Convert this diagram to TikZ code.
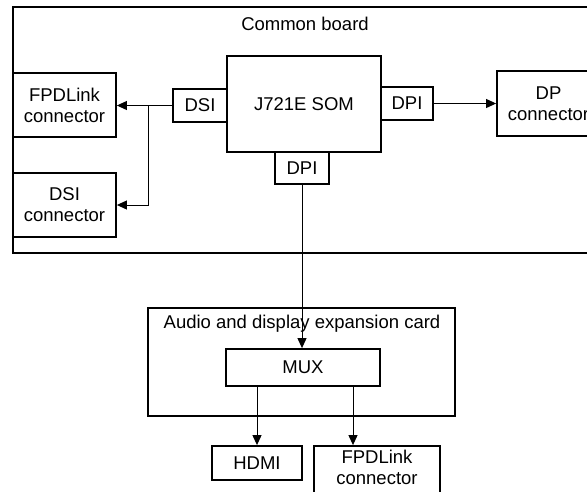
\documentclass[tikz,border=0pt]{standalone}
\usepackage{fontspec}
\setmainfont{Liberation Sans}
\usetikzlibrary{arrows.meta,positioning}

\begin{document}
\begin{tikzpicture}[x=1pt,y=1pt,yscale=-1,xscale=1,
  every node/.style={font=\fontsize{18.5}{21}\selectfont,align=center},
  blk/.style={draw,line width=1.8pt,inner sep=0pt},
  link/.style={line width=1pt,-{Triangle[length=10pt,width=9pt]}},
  wire/.style={line width=1pt}]
\useasboundingbox (0,0) rectangle (587,491);

%Shape: Rectangle, common board
\node[blk,minimum width=590,minimum height=246] (board) at (308,130) {};
\node (boardlbl) at (305,24) {Common board};

%Shape: Rectangle, SOM and its ports
\node[blk,minimum width=154,minimum height=96] (som) at (304,104) {J721E SOM};
\node[blk,minimum width=54,minimum height=33] (dsi) at (200,105.5) {DSI};
\node[blk,minimum width=52,minimum height=33] (dpir) at (407,103.5) {DPI};
\node[blk,minimum width=54,minimum height=32] (dpib) at (302,168) {DPI};

%Shape: Rectangle, connectors on the board
\node[blk,minimum width=103,minimum height=64] (fpda) at (64.5,105) {FPDLink\\connector};
\node[blk,minimum width=103,minimum height=64] (dsiconn) at (64.5,205) {DSI\\connector};
\node[blk,minimum width=103,minimum height=65] (dp) at (548.5,103.5) {DP\\connector};

%Shape: Rectangle, expansion card
\node[blk,minimum width=307,minimum height=108] (card) at (301.5,362) {};
\node (cardlbl) at (302,324) {Audio and display expansion card};
\node[blk,minimum width=154,minimum height=37] (mux) at (303,367.5) {MUX};

%Shape: Rectangle, outputs
\node[blk,minimum width=90,minimum height=34] (hdmi) at (257,463) {HDMI};
\node[blk,minimum width=126,minimum height=64] (fpdb) at (377,478) {};
\node[inner sep=2pt,below=3pt of fpdb.north] (fpdblbl) {FPDLink\\connector};

%Straight Lines
\coordinate (split) at (148,105.5);
\coordinate (muxout) at (353,386);
\draw[link] (dsi.west) -- (dsi.west -| fpda.east);
\draw[link] (split) |- (dsiconn.east);
\draw[link] (dpir.east) -- (dpir.east -| dp.west);
\draw[link] (dpib.south) -- (dpib.south |- mux.north);
\draw[link] (hdmi.north |- mux.south) -- (hdmi.north);
\draw[link] (muxout) -- (muxout |- fpdb.north);

\end{tikzpicture}
\end{document}
